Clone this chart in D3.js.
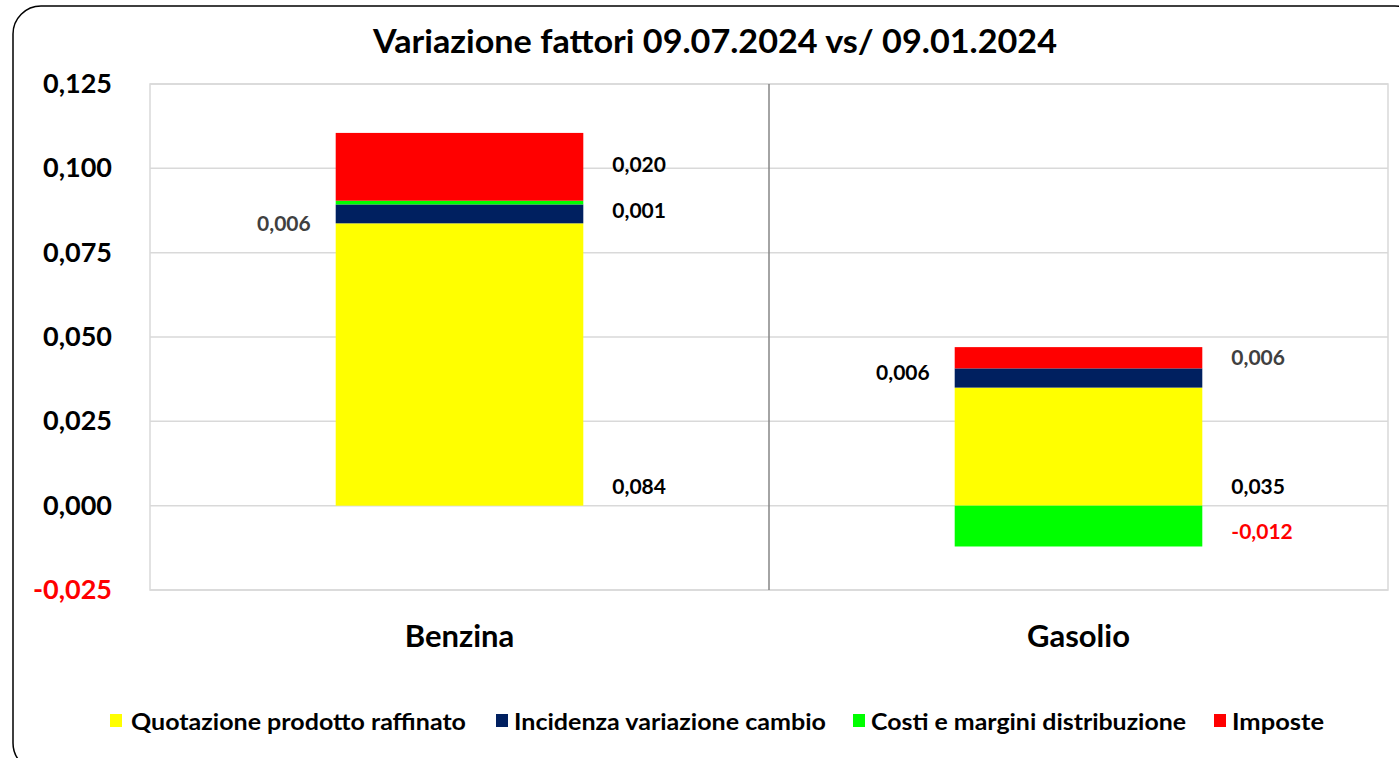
<!DOCTYPE html>
<html>
<head>
<meta charset="utf-8">
<script src="https://cdn.jsdelivr.net/npm/d3@7"></script>
<style>
  html, body { margin: 0; padding: 0; background: #fff; }
  svg { display: block; font-family: Lato, "Open Sans", sans-serif; font-weight: bold; }
</style>
</head>
<body>
<svg id="chart" width="1399" height="758"></svg>
<script>
// chart data
const title = 'Variazione fattori 09.07.2024 vs/ 09.01.2024';
const categories = ['Benzina', 'Gasolio'];
const seriesNames = ['Quotazione prodotto raffinato', 'Incidenza variazione cambio', 'Costi e margini distribuzione', 'Imposte'];
const quotazione = [0.0837, 0.0350];
const cambio = [0.0056, 0.0057];
const costi = [0.0011, -0.0121];
const imposte = [0.0201, 0.0063];
const yTicks = [-0.025, 0, 0.025, 0.05, 0.075, 0.1, 0.125];

const colors = ['#ffff00', '#002060', '#00ff00', '#ff0000'];
const seriesValues = [quotazione, cambio, costi, imposte];

const svg = d3.select('#chart');
const plot = {left: 150, right: 1388, top: 84, bottom: 590};

const it = d3.formatLocale({decimal: ',', thousands: '.', grouping: [3], currency: ['€', ''], minus: '-'});
const fmt = it.format('.3f');

// rows for the stack
const rows = categories.map((c, i) => {
  const r = {cat: c};
  seriesNames.forEach((s, j) => r[s] = seriesValues[j][i]);
  return r;
});
const stacked = d3.stack().keys(seriesNames).offset(d3.stackOffsetDiverging)(rows);

const x = d3.scaleBand().domain(categories).range([plot.left, plot.right]).padding(0);
const y = d3.scaleLinear().domain([-0.025, 0.125]).range([plot.bottom, plot.top]);
const barW = x.bandwidth() * 0.4;

// outer rounded frame
svg.append('rect')
  .attr('x', 13).attr('y', 6)
  .attr('width', 1410).attr('height', 765)
  .attr('rx', 28)
  .attr('fill', 'none').attr('stroke', '#000').attr('stroke-width', 1.5);

// title
svg.append('text')
  .attr('x', 715).attr('y', 53)
  .attr('text-anchor', 'middle')
  .attr('font-size', 32)
  .attr('textLength', 684)
  .attr('lengthAdjust', 'spacingAndGlyphs')
  .attr('fill', '#000')
  .text(title);

// gridlines
svg.append('g')
  .selectAll('line').data(yTicks)
  .join('line')
    .attr('x1', plot.left).attr('x2', plot.right)
    .attr('y1', d => y(d)).attr('y2', d => y(d))
    .attr('stroke', '#d9d9d9').attr('stroke-width', 1.5);

// plot frame
svg.append('rect')
  .attr('x', plot.left).attr('y', plot.top)
  .attr('width', plot.right - plot.left).attr('height', plot.bottom - plot.top)
  .attr('fill', 'none').attr('stroke', '#d9d9d9').attr('stroke-width', 1.5);

// category divider
svg.append('line')
  .attr('x1', x(categories[1])).attr('x2', x(categories[1]))
  .attr('y1', plot.top).attr('y2', plot.bottom)
  .attr('stroke', '#868686').attr('stroke-width', 1.5);

// y axis labels
const yAxis = d3.axisLeft(y).tickValues(yTicks).tickFormat(fmt).tickSize(0).tickPadding(0);
svg.append('g')
  .attr('transform', `translate(112,0)`)
  .call(yAxis)
  .call(g => g.select('.domain').remove())
  .selectAll('text')
    .attr('font-family', 'Lato, sans-serif')
    .attr('font-weight', 'bold')
    .attr('font-size', 27)
    .attr('dy', '0.32em')
    .attr('fill', d => d < 0 ? '#ff0000' : '#000');

// bars
svg.append('g')
  .selectAll('g').data(stacked)
  .join('g')
    .attr('fill', (d, i) => colors[i])
  .selectAll('rect').data(d => d)
  .join('rect')
    .attr('x', d => x(d.data.cat) + (x.bandwidth() - barW) / 2)
    .attr('width', barW)
    .attr('y', d => y(Math.max(d[0], d[1])))
    .attr('height', d => Math.abs(y(d[0]) - y(d[1])));

// data labels: side and small nudges, as placed in the original
const labelSide = ['right', 'left', 'right', 'right'];
const nudge = {
  'Benzina': [0, 10, 8, -2],
  'Gasolio': [0, -6, 5, 0]
};
const grayLabel = {'Benzina': [false, true, false, false], 'Gasolio': [false, false, false, true]};

const labels = [];
stacked.forEach((s, j) => {
  s.forEach(d => {
    const cat = d.data.cat;
    const v = d.data[s.key];
    let cy;
    if (j === 0) cy = y(0) - 19;
    else cy = (y(d[0]) + y(d[1])) / 2;
    cy += nudge[cat][j];
    const left = x(cat) + (x.bandwidth() - barW) / 2;
    labels.push({
      v: v,
      x: labelSide[j] === 'right' ? left + barW + 29 : left - 25,
      anchor: labelSide[j] === 'right' ? 'start' : 'end',
      y: cy,
      color: v < 0 ? '#ff0000' : (grayLabel[cat][j] ? '#404040' : '#000')
    });
  });
});

svg.append('g')
  .selectAll('text').data(labels)
  .join('text')
    .attr('x', d => d.x)
    .attr('y', d => d.y)
    .attr('dy', '0.36em')
    .attr('text-anchor', d => d.anchor)
    .attr('font-size', 21)
    .attr('fill', d => d.color)
    .text(d => fmt(d.v));

// category labels
svg.append('g')
  .selectAll('text').data(categories)
  .join('text')
    .attr('x', d => x(d) + x.bandwidth() / 2)
    .attr('y', 647)
    .attr('text-anchor', 'middle')
    .attr('font-size', 31)
    .attr('fill', '#000')
    .text(d => d);

// legend
const legendX = [110, 496, 853, 1214];
const legendW = [335, 312, 315, 92];
const legend = svg.append('g')
  .selectAll('g').data(seriesNames)
  .join('g')
    .attr('transform', (d, i) => `translate(${legendX[i]},714)`);
legend.append('rect')
  .attr('width', 12).attr('height', 13)
  .attr('fill', (d, i) => colors[i]);
legend.append('text')
  .attr('x', (d, i) => i === 0 ? 21 : 18).attr('y', 16)
  .attr('font-size', 23)
  .attr('textLength', (d, i) => legendW[i])
  .attr('lengthAdjust', 'spacingAndGlyphs')
  .attr('fill', '#000')
  .text(d => d);
</script>
</body>
</html>
